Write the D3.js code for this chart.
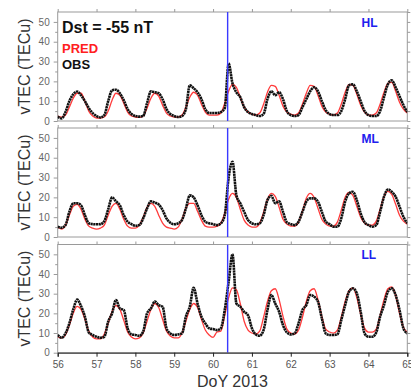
<!DOCTYPE html>
<html>
<head>
<meta charset="utf-8">
<script src="https://cdn.jsdelivr.net/npm/d3@7"></script>
<style>
  body { margin: 0; background: #fff; }
  svg { display: block; }
  text { font-family: "Liberation Sans", Arial, Helvetica, sans-serif; }
</style>
</head>
<body>
<svg class="chart" width="411" height="389"></svg>
<script>
// DoY 2013, sampled every 0.1 day from 56.0 to 65.0
var dayTicks = [56, 57, 58, 59, 60, 61, 62, 63, 64, 65];
var vtecTicks = [0, 10, 20, 30, 40, 50];
var regions = ["HL", "ML", "LL"];
var stormDay = 60.375;

var obsHL = [
  2.2, 1.3, 4.5, 10, 13.5, 14.8, 13, 10, 6.5, 4,
  2.5, 1.8, 3, 10, 15.5, 15.8, 14, 10.5, 6, 3.5,
  2.5, 2.2, 2.5, 9, 15, 14.5, 14, 11, 6, 3.5,
  2.5, 2, 2.5, 6, 18, 16.5, 14.5, 11, 6, 4,
  4, 4, 4.5, 6.5, 29, 19, 14.5, 12, 7, 4.5,
  3.5, 3, 2.5, 3.5, 11, 15, 13, 14.5, 11, 5,
  3, 2.5, 3, 7, 11, 15, 17, 15, 10, 5.5,
  3.5, 3, 3, 5, 11, 18, 18.5, 15, 10, 5,
  3, 2.5, 2.5, 5, 12, 18.5, 20.5, 17, 12.5, 8,
  4.5
];
var predHL = [
  2.5, 2, 3, 7, 11.5, 14, 14, 10, 5, 2.5,
  1.5, 1.5, 2, 5, 10.5, 14, 13, 9, 4.5, 2.5,
  2, 1.8, 2.5, 6.5, 11.5, 14, 12.5, 8, 4, 2.5,
  2, 2, 3, 7, 12, 14.5, 13, 8.5, 4.5, 3,
  3, 3, 4, 9, 15, 18.5, 17, 12, 7, 4.5,
  3.5, 3, 4, 8.5, 14.5, 18, 17.5, 13, 7.5, 4.5,
  3.5, 3, 4, 8.5, 14, 18, 17.5, 13, 7.5, 4.5,
  3.5, 3, 4, 8.5, 14.5, 18.5, 18, 13.5, 8, 4.5,
  3, 3, 4, 8.5, 14.5, 19, 19.5, 15, 9.5, 6,
  4
];
var obsML = [
  5.2, 4.7, 6, 12.7, 17, 17, 16, 11, 6.9, 6.5,
  6.4, 6.5, 8, 14, 20, 18, 16, 11, 7.7, 6.5,
  5.7, 6, 9.4, 14.4, 18, 17.3, 16.4, 13.6, 9.4, 7.2,
  6.4, 6.9, 8.6, 14.4, 21, 20, 16, 11, 7.7, 6.9,
  6.5, 6, 6.9, 11, 30, 38, 21, 17, 12.7, 8.6,
  6.9, 6.4, 6.9, 11, 18.6, 20.8, 17, 18, 12.7, 7.4,
  6.5, 6, 7.7, 12.7, 17.8, 19.5, 19.5, 17.8, 12.7, 7.7,
  6.5, 5.2, 5.2, 9.4, 17.8, 22, 22.8, 18.6, 11.9, 7.4,
  6, 5.2, 6, 12.7, 20.3, 24, 22.8, 20.3, 15.3, 10.2,
  6.9
];
var predML = [
  5, 4, 6, 11, 15.5, 16.5, 14, 9, 5.5, 4.5,
  4, 4.5, 6, 11, 15.5, 17, 14, 9, 5.5, 4.5,
  4.5, 6, 10, 15, 17, 15.5, 11, 7, 5, 4.5,
  4, 5, 9, 14.5, 17, 17, 13, 8.5, 5.5, 5,
  5, 5.5, 7, 12, 19, 22, 20, 14, 8.5, 6,
  5, 5, 7, 12.5, 19, 22, 20.5, 15, 9, 6.5,
  5.5, 5.5, 7.5, 13, 19.5, 22, 20, 14.5, 9, 6.5,
  5.5, 5.5, 7.5, 13.5, 20, 22.5, 21, 15.5, 10, 7,
  6, 6, 8, 14, 20.5, 23, 21.5, 16.5, 11, 8,
  6.5
];
var obsLL = [
  9, 7.6, 9.8, 14.9, 22, 27, 23.7, 18.3, 10.3, 9,
  8.1, 7.6, 8.1, 15.8, 20, 26.8, 22.5, 21.7, 12.4, 9.3,
  9, 8.6, 10.7, 20, 22.5, 26, 24.2, 23.4, 12.4, 9.8,
  9, 9.3, 9.8, 18.3, 23.4, 33, 25, 18.3, 14.9, 12.4,
  12, 11.5, 12.4, 21.7, 36, 50, 25, 23.4, 20.8, 19,
  12.4, 9.3, 8.6, 11.5, 21.7, 29.3, 25, 20.8, 14, 10.3,
  9.3, 9.8, 14.9, 21.7, 24.2, 29.3, 28.5, 26, 17.5, 9.8,
  9, 9, 9.3, 16.6, 24.2, 31, 32.7, 30.2, 20.8, 9.8,
  8.1, 8.1, 10.3, 18.3, 24.2, 31, 32.7, 29.3, 21.7, 12.4,
  9.8
];
var predLL = [
  8, 7.5, 9, 14, 20, 23.5, 22, 17, 11, 8,
  7, 7, 9.5, 15, 21, 24, 22, 16.5, 10.5, 8,
  7, 7.5, 10, 16, 22, 25, 23, 17, 11, 8.5,
  7.5, 7.5, 10, 16, 22, 25, 23, 17, 11.5, 9,
  7.8, 10.5, 11, 19, 28, 33, 32, 25, 16, 11.5,
  10, 9.5, 11, 18, 26, 31.5, 32.5, 27, 18.5, 12,
  10, 9.5, 11.5, 18, 26, 31.5, 32.5, 27, 18.5, 12,
  10.5, 10, 11.5, 18, 26, 31.5, 33, 28, 19.5, 12.5,
  10.5, 10.5, 12, 19, 27, 32.5, 33.5, 29, 20, 13,
  10.5
];

var obsSeries = [obsHL, obsML, obsLL];
var predSeries = [predHL, predML, predLL];
var days = obsHL.map(function(d, i) { return 56 + i / 10; });

var svg = d3.select("svg.chart");
var left = 57.7, right = 407.3;
var panelTop = [12, 128, 244.5], panelBottom = [121, 237, 352.7];
var frameColor = "#9a9a9a";

var x = d3.scaleLinear().domain([56, 65]).range([left, right]);

regions.forEach(function(name, p) {
  var top = panelTop[p], bottom = panelBottom[p];
  var y = d3.scaleLinear().domain([0, 55]).range([bottom, top]);
  var g = svg.append("g");

  g.append("clipPath").attr("id", "clip" + p)
    .append("rect")
      .attr("x", left).attr("y", top)
      .attr("width", right - left).attr("height", bottom - top);

  // outward ticks on top and right edges
  g.append("g")
      .attr("transform", "translate(0," + top + ")")
      .call(d3.axisTop(x).tickValues(dayTicks).tickSize(3).tickFormat(""));
  g.append("g")
      .attr("transform", "translate(" + right + ",0)")
      .call(d3.axisRight(y).tickValues(d3.range(0, 56, 5)).tickSize(3).tickFormat(""));
  g.append("g")
      .attr("transform", "translate(" + left + ",0)")
      .call(d3.axisLeft(y).tickValues([5, 15, 25, 35, 45]).tickSize(2.5).tickFormat(""));
  g.append("g")
      .attr("class", "yaxis")
      .attr("transform", "translate(" + left + ",0)")
      .call(d3.axisLeft(y).tickValues(vtecTicks).tickSize(4).tickPadding(4));

  g.selectAll(".domain").remove();
  g.selectAll(".tick line").attr("stroke", frameColor);
  g.selectAll(".yaxis text")
      .attr("fill", "#666")
      .attr("font-size", 10)
      .attr("font-family", "Liberation Sans, Arial, sans-serif");

  g.append("rect")
      .attr("x", left).attr("y", top)
      .attr("width", right - left).attr("height", bottom - top)
      .attr("fill", "none")
      .attr("stroke", frameColor)
      .attr("stroke-width", 1);

  var line = d3.line()
      .x(function(d, i) { return x(days[i]); })
      .y(function(d) { return y(d); })
      .curve(d3.curveMonotoneX);

  var plot = g.append("g").attr("clip-path", "url(#clip" + p + ")");

  plot.append("path")
      .datum(predSeries[p])
      .attr("fill", "none")
      .attr("stroke", "#ff3b3b")
      .attr("stroke-width", 1.3)
      .attr("d", line);

  plot.append("path")
      .datum(obsSeries[p])
      .attr("fill", "none")
      .attr("stroke", "#111")
      .attr("stroke-width", 2.6)
      .attr("stroke-linejoin", "round")
      .attr("stroke-dasharray", "2.2,0.5")
      .attr("d", line);

  plot.append("line")
      .attr("x1", x(stormDay)).attr("x2", x(stormDay))
      .attr("y1", top).attr("y2", bottom)
      .attr("stroke", "#3a3aff")
      .attr("stroke-width", 1.4);

  g.append("text")
      .attr("x", 361.5)
      .attr("y", top + 14.8)
      .attr("fill", "#2020ee")
      .attr("font-weight", "bold")
      .attr("font-size", 12)
      .text(name);

  g.append("text")
      .attr("transform", "translate(30," + (top + bottom) / 2 + ") rotate(-90)")
      .attr("text-anchor", "middle")
      .attr("fill", "#333")
      .attr("font-size", 16)
      .text("vTEC (TECu)");

  if (p === 2) {
    var xa = g.append("g")
        .attr("transform", "translate(0," + bottom + ")")
        .call(d3.axisBottom(x).tickValues(dayTicks).tickSize(4).tickPadding(4));
    xa.select(".domain").attr("stroke", "#222");
    xa.selectAll(".tick line").attr("stroke", "#222");
    xa.selectAll("text")
        .attr("fill", "#555")
        .attr("font-size", 10)
        .attr("font-family", "Liberation Sans, Arial, sans-serif");
  }
});

svg.append("text")
    .attr("x", 62).attr("y", 33.3)
    .attr("font-size", 16).attr("font-weight", "bold").attr("fill", "#111")
    .text("Dst = -55 nT");
svg.append("text")
    .attr("x", 62).attr("y", 53.3)
    .attr("font-size", 13).attr("font-weight", "bold").attr("fill", "#ff2020")
    .text("PRED");
svg.append("text")
    .attr("x", 62).attr("y", 69)
    .attr("font-size", 13).attr("font-weight", "bold").attr("fill", "#111")
    .text("OBS");

svg.append("text")
    .attr("x", 232.5).attr("y", 387)
    .attr("text-anchor", "middle")
    .attr("font-size", 16).attr("fill", "#333")
    .text("DoY 2013");
</script>
</body>
</html>
